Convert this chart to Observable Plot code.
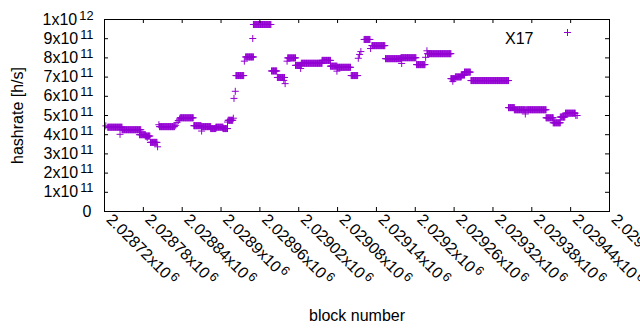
<!DOCTYPE html>
<html><head><meta charset="utf-8">
<script src="https://cdn.jsdelivr.net/npm/d3@7"></script>
<script src="https://cdn.jsdelivr.net/npm/@observablehq/plot@0.6"></script>
<style>body{margin:0;background:#fff;} svg{display:block}</style>
</head><body>
<script>
// Runs of consecutive blocks with (nearly) the same hashrate
const runStart = [2028725,2028747,2028774,2028783,2028791,2028805,2028837,2028858,2028870,2028884,2028892,2028903,2028911,2028923,2028938,2028950,2028978,2028987,2029003,2029015,2029024,2029056,2029069,2029080,2029101,2029121,2029133,2029154,2029178,2029202,2029219,2029255,2029262,2029271,2029276,2029286,2029344,2029353,2029372,2029402,2029413,2029424,2029432];
const runEnd   = [2028747,2028776,2028783,2028790,2028801,2028828,2028857,2028869,2028884,2028892,2028903,2028910,2028918,2028935,2028950,2028977,2028986,2028998,2029015,2029024,2029056,2029069,2029079,2029100,2029111,2029130,2029153,2029178,2029201,2029215,2029255,2029261,2029271,2029276,2029285,2029344,2029353,2029370,2029402,2029413,2029424,2029431,2029447];
const runValue = [4.39,4.26,4.00,3.93,3.60,4.42,4.88,4.47,4.42,4.32,4.39,4.32,4.75,7.08,8.05,9.74,7.32,6.98,8.00,7.61,7.72,7.87,7.57,7.51,7.08,8.96,8.64,7.96,8.01,7.65,8.22,6.92,7.01,7.11,7.26,6.82,5.41,5.30,5.30,4.88,4.62,4.92,5.12]; // x1e11 h/s

// Isolated points
const singleBlock = [2028722,2028744,2028786,2028802,2028804,2028830,2028832,2028834,2028836,2028870,2028910,2028919,2028920,2028922,2028936,2028949,2028997,2028999,2029002,2029023,2029079,2029112,2029114,2029116,2029131,2029179,2029216,2029218,2029258,2029370,2029448,2029450];
const singleValue = [4.46,4.02,3.86,3.37,4.52,4.49,4.64,4.74,4.82,4.19,4.66,4.86,5.89,6.26,7.83,9.01,6.83,6.66,7.83,7.45,7.31,7.98,8.18,8.33,8.49,7.71,8.03,8.37,6.78,5.08,5.00,5.00]; // x1e11 h/s

const xTickValues = [2028720,2028780,2028840,2028900,2028960,2029020,2029080,2029140,2029200,2029260,2029320,2029380,2029440,2029500];
const xTickLabels = ["2.02872x10^6","2.02878x10^6","2.02884x10^6","2.0289x10^6","2.02896x10^6","2.02902x10^6","2.02908x10^6","2.02914x10^6","2.0292x10^6","2.02926x10^6","2.02932x10^6","2.02938x10^6","2.02944x10^6","2.0295x10^6"];
const yTickValues = [0,1e11,2e11,3e11,4e11,5e11,6e11,7e11,8e11,9e11,1e12];
const yTickLabels = ["0","1x10^11","2x10^11","3x10^11","4x10^11","5x10^11","6x10^11","7x10^11","8x10^11","9x10^11","1x10^12"];

const seriesName = "X17";
const color = "#9400d3";

const points = [];
runStart.forEach((s, i) => { for (let b = s; b <= runEnd[i]; b++) points.push({block: b, rate: runValue[i] * 1e11}); });
singleBlock.forEach((b, i) => points.push({block: b, rate: singleValue[i] * 1e11}));

const plotW = 505, plotH = 192, tk = 4;
const svg = Plot.plot({
  width: 640, height: 330,
  marginLeft: 104, marginRight: 31, marginTop: 19, marginBottom: 119,
  x: {domain: [2028720, 2029500], axis: null},
  y: {domain: [0, 1e12], axis: null},
  style: {fontFamily: "'Liberation Sans', Arial, sans-serif", fontSize: "16px", background: "white", color: "black"},
  marks: [
    Plot.dot(points, {x: "block", y: "rate", symbol: "plus", r: 2.4, stroke: color, strokeWidth: 1}),
    Plot.ruleX(xTickValues, {x: d => d, insetTop: plotH - tk, stroke: "black"}),
    Plot.ruleX(xTickValues, {x: d => d, insetBottom: plotH - tk, stroke: "black"}),
    Plot.ruleY(yTickValues, {y: d => d, insetRight: plotW - tk, stroke: "black"}),
    Plot.ruleY(yTickValues, {y: d => d, insetLeft: plotW - tk, stroke: "black"}),
    Plot.frame({stroke: "black", strokeWidth: 1}),
    Plot.text(yTickValues, {filter: (d, i) => i > 0, y: d => d, text: d => yTickLabels[yTickValues.indexOf(d)], frameAnchor: "left", textAnchor: "end", dx: -11, fontSize: 16}),
    Plot.text(yTickValues, {filter: (d, i) => i === 0, y: d => d, text: d => yTickLabels[yTickValues.indexOf(d)], frameAnchor: "left", textAnchor: "end", dx: -13, fontSize: 16}),
    Plot.text(xTickValues, {x: d => d, text: d => xTickLabels[xTickValues.indexOf(d)], frameAnchor: "bottom", textAnchor: "start", lineAnchor: "bottom", rotate: 45, dx: 1, dy: 9, fontSize: 16}),
    Plot.text(["hashrate [h/s]"], {text: d => d, frameAnchor: "left", rotate: -90, textAnchor: "middle", lineAnchor: "bottom", dx: -82, fontSize: 16}),
    Plot.text(["block number"], {text: d => d, frameAnchor: "bottom", textAnchor: "middle", lineAnchor: "bottom", dy: 109, fontSize: 16}),
    Plot.text([seriesName], {text: d => d, frameAnchor: "top-right", textAnchor: "end", dx: -76, dy: 13, fontSize: 16}),
    Plot.dot([seriesName], {frameAnchor: "top-right", symbol: "plus", r: 2.4, stroke: color, strokeWidth: 1, dx: -42, dy: 13})
  ]
});

// turn "a^b" labels into base text plus raised superscript
d3.select(svg).selectAll("text").each(function() {
  const t = this.textContent;
  const k = t.indexOf("^");
  if (k < 0) return;
  while (this.firstChild) this.removeChild(this.firstChild);
  this.appendChild(document.createTextNode(t.slice(0, k)));
  const ts = document.createElementNS("http://www.w3.org/2000/svg", "tspan");
  ts.setAttribute("dx", "2");
  ts.setAttribute("dy", "-5");
  ts.setAttribute("font-size", "12.8");
  ts.textContent = t.slice(k + 1);
  this.appendChild(ts);
});
document.body.appendChild(svg);
</script>
</body></html>
